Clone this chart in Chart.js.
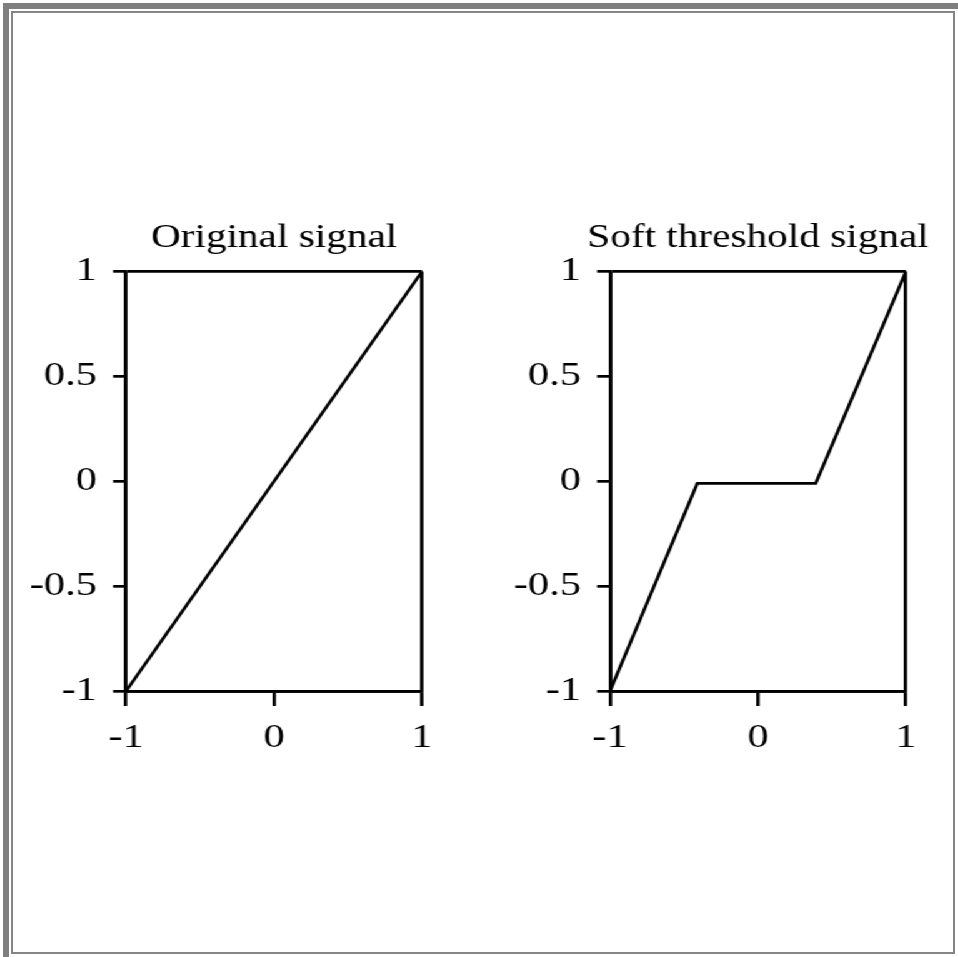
<!DOCTYPE html>
<html>
<head>
<meta charset="utf-8">
<script src="https://cdn.jsdelivr.net/npm/chart.js@4"></script>
<style>
  html, body { margin: 0; padding: 0; background: #fff; overflow: hidden; }
  .frame-outer {
    position: absolute; left: 3px; top: 3px; width: 955px; height: 954px;
    border-left: 6px solid #7f7f7f; border-top: 6px solid #7f7f7f; box-sizing: border-box;
  }
  .frame-inner {
    position: absolute; left: 11px; top: 11px; width: 944px; height: 943px;
    border: 2px solid #858585; box-sizing: border-box;
  }
  /* the reference is stretched sideways, so draw narrow and widen */
  #stretch {
    position: absolute; left: 0; top: 0; width: 766px; height: 957px;
    transform: scaleX(1.25); transform-origin: 0 0;
  }
  #stretch canvas { position: absolute; top: 190px; }
  #origChart { left: 0; }
  #softChart { left: 390px; }
</style>
</head>
<body>
<div class="frame-outer"></div>
<div class="frame-inner"></div>
<div id="stretch">
  <canvas id="origChart" width="383" height="590"></canvas>
  <canvas id="softChart" width="376" height="590"></canvas>
</div>
<script>
// data
const origX = [-1, 1];
const origY = [-1, 1];
const softX = [-1, -0.41, 0.39, 1];
const softY = [-1, -0.01, -0.01, 1];
const xTicks = [-1, 0, 1];
const xTickLabels = ['-1', '0', '1'];
const yTicks = [-1, -0.5, 0, 0.5, 1];
const yTickLabels = ['-1', '-0.5', '0', '0.5', '1'];
const titles = ['Original signal', 'Soft threshold signal'];

const serif = '"Liberation Serif", "Times New Roman", serif';
const LW = 2.7;

// title centred over the plot box
const boxTitle = {
  id: 'boxTitle',
  afterDraw(chart, args, opts) {
    const ctx = chart.ctx;
    const area = chart.chartArea;
    ctx.save();
    ctx.font = '33px ' + serif;
    ctx.fillStyle = '#000';
    ctx.textAlign = 'center';
    ctx.textBaseline = 'alphabetic';
    ctx.fillText(opts.text, (area.left + area.right) / 2, 57);
    ctx.restore();
  }
};

// only the box edges get a grid line, the inner ticks stay outside
function edgeOnly(c) {
  if (c.tick && (c.tick.value === -1 || c.tick.value === 1)) return '#000';
  return 'rgba(0,0,0,0)';
}

function makeChart(id, xs, ys, title, yWidth, padRight) {
  const points = xs.map((x, i) => ({ x: x, y: ys[i] }));
  return new Chart(document.getElementById(id), {
    type: 'scatter',
    data: {
      datasets: [{
        data: points,
        showLine: true,
        borderColor: '#000',
        borderWidth: LW,
        pointRadius: 0,
        tension: 0,
        fill: false
      }]
    },
    options: {
      responsive: false,
      animation: false,
      layout: { padding: { top: 81.5, right: padRight, left: 0, bottom: 0 } },
      plugins: {
        legend: { display: false },
        tooltip: { enabled: false },
        title: { display: false },
        boxTitle: { text: title }
      },
      scales: {
        x: {
          type: 'linear',
          min: -1, max: 1,
          afterBuildTicks: s => { s.ticks = xTicks.map(v => ({ value: v })); },
          afterFit: s => { s.height = 89; },
          border: { display: true, color: '#000', width: LW },
          grid: { drawOnChartArea: true, color: edgeOnly, tickColor: '#000', lineWidth: LW, tickLength: 15 },
          ticks: {
            color: '#000', font: { family: serif, size: 34 }, padding: 11.6, maxRotation: 0,
            callback: (v, i) => xTickLabels[i]
          }
        },
        y: {
          type: 'linear',
          min: -1, max: 1,
          afterBuildTicks: s => { s.ticks = yTicks.map(v => ({ value: v })); },
          afterFit: s => { s.width = yWidth; },
          border: { display: true, color: '#000', width: LW },
          grid: { drawOnChartArea: true, color: edgeOnly, tickColor: '#000', lineWidth: LW, tickLength: 10.4 },
          ticks: {
            color: '#000', font: { family: serif, size: 34 }, padding: 12.8,
            callback: (v, i) => yTickLabels[i]
          }
        }
      }
    },
    plugins: [boxTitle]
  });
}

makeChart('origChart', origX, origY, titles[0], 100.8, 45.4);
makeChart('softChart', softX, softY, titles[1], 98, 41.2);
</script>
</body>
</html>
